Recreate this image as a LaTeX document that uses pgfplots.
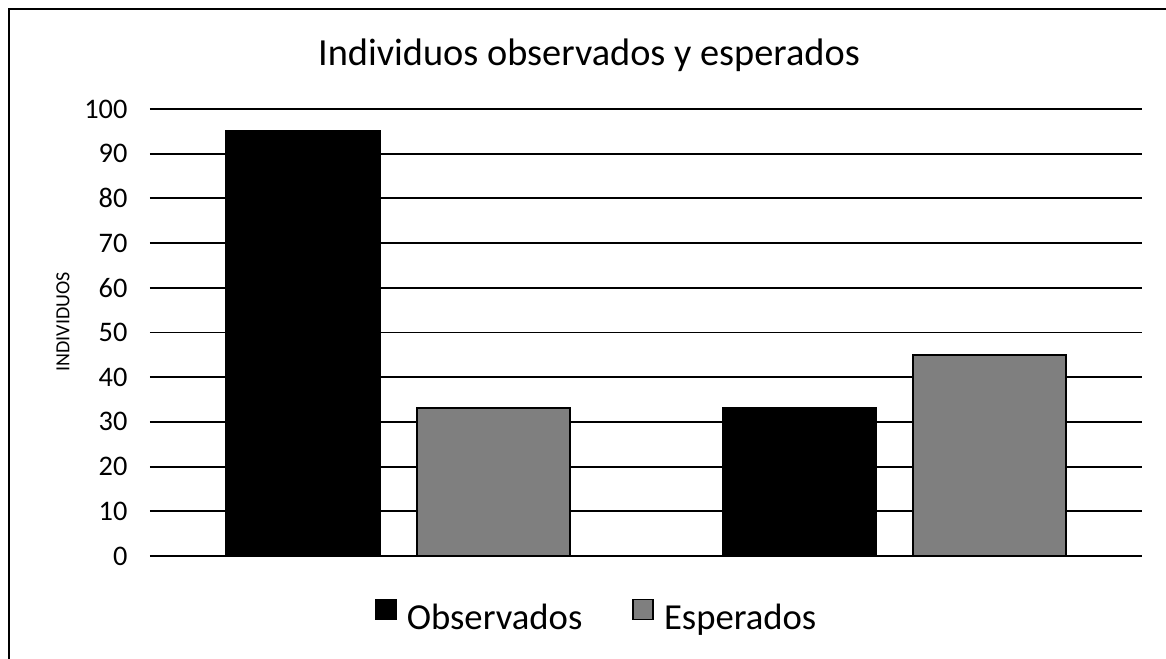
\documentclass[border=0pt]{standalone}
\usepackage{pgfplots}
\pgfplotsset{compat=1.18}
\usepackage{fontspec}
\setmainfont{Carlito}
\definecolor{esp}{HTML}{7F7F7F}
\begin{document}
\begin{tikzpicture}
\useasboundingbox (0pt,0pt) rectangle (699.6pt,395.4pt);
\draw[line width=1.1pt] (5.4pt,-5pt) -- (5.4pt,390pt) -- (710pt,390pt);
\node[font=\fontsize{23}{27}\selectfont] at (353.4pt,362.4pt) {Individuos observados y esperados};
\node[rotate=90, font=\fontsize{12}{14}\selectfont] at (37.8pt,202.2pt) {INDIVIDUOS};
\begin{axis}[at={(90pt,61.8pt)}, anchor=south west, scale only axis,
  width=595.2pt, height=268.2pt,
  ybar=22.2pt, bar width=91.8pt,
  xmin=0.5, xmax=2.5, ymin=0, ymax=100,
  ytick={0,10,...,100}, xtick=\empty,
  axis line style={draw=none}, major tick length=0pt,
  ymajorgrids, grid style={black, line width=1.1pt},
  /pgf/number format/assume math mode=true,
  yticklabel style={font=\fontsize{17}{20}\selectfont, xshift=-10pt},
  legend style={at={(0.451,-0.136)}, anchor=center, draw=none, fill=none,
    legend columns=2, font=\fontsize{22}{26}\selectfont,
    /tikz/every odd column/.append style={column sep=4pt},
    /tikz/every even column/.append style={column sep=28pt}},
  legend image code/.code={\draw[#1,draw=black,line width=1pt] (0pt,-1pt) rectangle (12pt,11pt);}]
\addplot[fill=black, draw=black, line width=1.2pt] coordinates {(1,95) (2,33)};
\addplot[fill=esp, draw=black, line width=1.2pt] coordinates {(1,33) (2,45)};
\legend{Observados, Esperados}
\end{axis}
\end{tikzpicture}
\end{document}
